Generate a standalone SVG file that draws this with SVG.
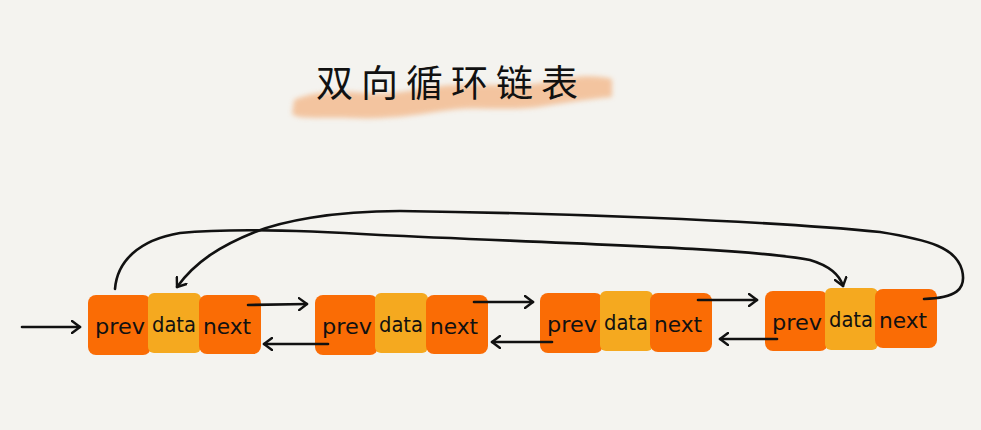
<svg xmlns="http://www.w3.org/2000/svg" width="981" height="430" viewBox="0 0 981 430">
<defs>
<style>
.bg{fill:#F4F3EF}
.side{fill:#FA6C05}
.mid{fill:#F5A91F}
.lbl{font-family:"DejaVu Sans Condensed","Liberation Sans",sans-serif;font-size:22px;fill:#111;text-anchor:middle}
.ln{fill:none;stroke:#111;stroke-width:2.6;stroke-linecap:round;stroke-linejoin:round}
.title{font-family:"Noto Sans CJK SC","Noto Sans CJK JP",sans-serif;font-size:37px;fill:#111;letter-spacing:8px}
</style>
<marker id="ah" markerWidth="12" markerHeight="14" refX="9" refY="7" orient="auto" markerUnits="userSpaceOnUse">
<path d="M1,1 L9,7 L1,13" fill="none" stroke="#111" stroke-width="2.4" stroke-linecap="round" stroke-linejoin="round"/>
</marker>
<filter id="blur" x="-10%" y="-50%" width="120%" height="200%"><feGaussianBlur stdDeviation="2.5"/></filter>
</defs>
<rect class="bg" x="0" y="0" width="981" height="430"/>
<g id="title">
<path d="M294,100 C310,92 335,90 365,93 C400,96 425,86 455,85 C490,84 520,88 545,82 C570,76 595,74 612,79 L612,97 C590,99 570,102 545,106 C510,112 480,106 450,110 C420,114 390,120 350,118 C320,117 300,120 292,114 Z" fill="#F3B98C" opacity="0.8" filter="url(#blur)"/>
<text class="title" x="316" y="97">双向循环链表</text>
</g>
<g id="node1">
<rect class="side" x="88" y="295" width="63" height="60" rx="8"/>
<rect class="mid" x="148" y="293" width="53" height="60" rx="6"/>
<rect class="side" x="199" y="295" width="62" height="59" rx="8"/>
<text class="lbl" x="120" y="334" textLength="50" lengthAdjust="spacingAndGlyphs">prev</text>
<text class="lbl" x="174" y="332" textLength="44" lengthAdjust="spacingAndGlyphs">data</text>
<text class="lbl" x="227" y="334" textLength="48" lengthAdjust="spacingAndGlyphs">next</text>
</g>
<g id="node2">
<rect class="side" x="315" y="295" width="63" height="60" rx="8"/>
<rect class="mid" x="375" y="293" width="53" height="60" rx="6"/>
<rect class="side" x="426" y="295" width="62" height="59" rx="8"/>
<text class="lbl" x="347" y="334" textLength="50" lengthAdjust="spacingAndGlyphs">prev</text>
<text class="lbl" x="401" y="332" textLength="44" lengthAdjust="spacingAndGlyphs">data</text>
<text class="lbl" x="454" y="334" textLength="48" lengthAdjust="spacingAndGlyphs">next</text>
</g>
<g id="node3">
<rect class="side" x="540" y="293" width="63" height="60" rx="8"/>
<rect class="mid" x="600" y="291" width="53" height="60" rx="6"/>
<rect class="side" x="650" y="293" width="62" height="59" rx="8"/>
<text class="lbl" x="572" y="332" textLength="50" lengthAdjust="spacingAndGlyphs">prev</text>
<text class="lbl" x="626" y="330" textLength="44" lengthAdjust="spacingAndGlyphs">data</text>
<text class="lbl" x="678" y="332" textLength="48" lengthAdjust="spacingAndGlyphs">next</text>
</g>
<g id="node4">
<rect class="side" x="765" y="291" width="63" height="60" rx="8"/>
<rect class="mid" x="825" y="288" width="53" height="62" rx="6"/>
<rect class="side" x="875" y="289" width="62" height="59" rx="8"/>
<text class="lbl" x="797" y="330" textLength="50" lengthAdjust="spacingAndGlyphs">prev</text>
<text class="lbl" x="851" y="327" textLength="44" lengthAdjust="spacingAndGlyphs">data</text>
<text class="lbl" x="903" y="328" textLength="48" lengthAdjust="spacingAndGlyphs">next</text>
</g>
<g id="connectors">
<path class="ln" d="M22,327 L80,327" marker-end="url(#ah)"/>
<path class="ln" d="M248,305 L307,304" marker-end="url(#ah)"/>
<path class="ln" d="M474,302 L533,302" marker-end="url(#ah)"/>
<path class="ln" d="M698,300 L757,300" marker-end="url(#ah)"/>
<path class="ln" d="M328,344 L264,344" marker-end="url(#ah)"/>
<path class="ln" d="M552,342 L492,342" marker-end="url(#ah)"/>
<path class="ln" d="M777,339 L720,339" marker-end="url(#ah)"/>
<path class="ln" d="M115,289 C117,262 138,240 180,233 C230,228 300,230 380,235 C550,243 750,248 810,260 C830,266 840,276 843,286" marker-end="url(#ah)"/>
<path class="ln" d="M924,299 C955,298 967,290 962,270 C956,248 930,240 880,232 C760,220 550,213 400,211 C330,211 280,222 255,232 C220,246 195,262 177,287" marker-end="url(#ah)"/>
</g>
</svg>
